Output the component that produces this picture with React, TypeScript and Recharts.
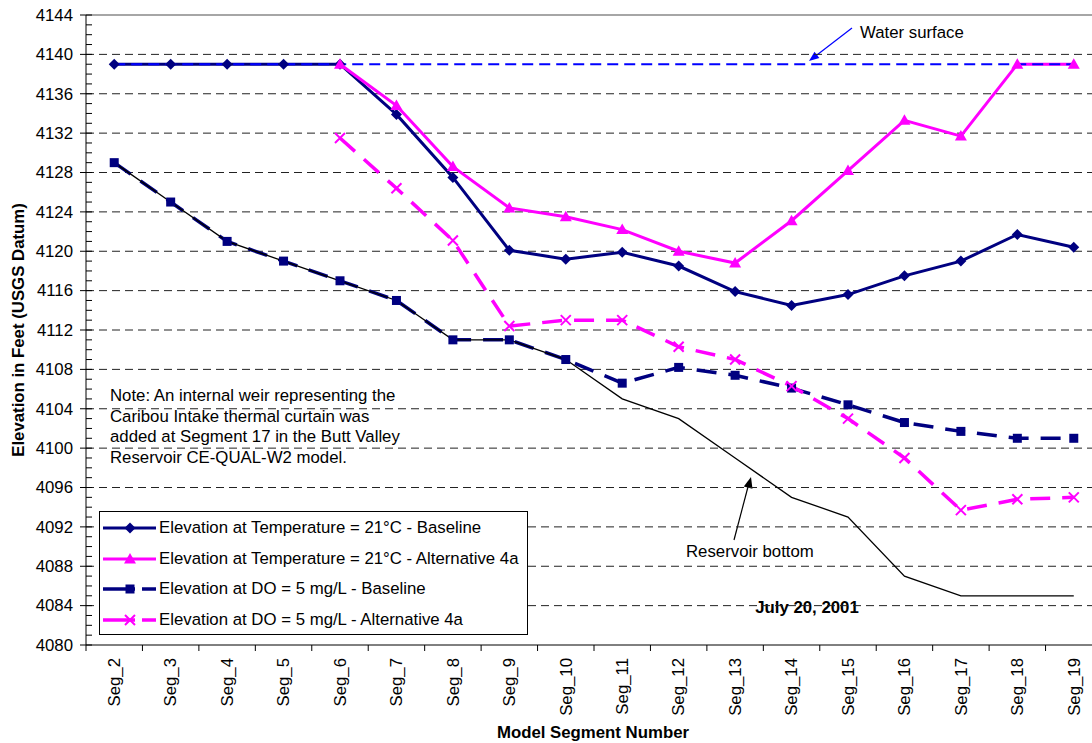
import React from "react";
import {
  LineChart,
  Line,
  XAxis,
  YAxis,
  ReferenceLine,
  Legend,
} from "recharts";

const SEGMENTS = [
  "Seg_2", "Seg_3", "Seg_4", "Seg_5", "Seg_6", "Seg_7", "Seg_8", "Seg_9", "Seg_10",
  "Seg_11", "Seg_12", "Seg_13", "Seg_14", "Seg_15", "Seg_16", "Seg_17", "Seg_18", "Seg_19",
];

const TEMP_BASELINE = [
  4139, 4139, 4139, 4139, 4139, 4133.9, 4127.5, 4120.1, 4119.2,
  4119.9, 4118.5, 4115.9, 4114.5, 4115.6, 4117.5, 4119.0, 4121.7, 4120.4,
];
const TEMP_ALT = [
  null, null, null, null, 4139, 4134.8, 4128.6, 4124.4, 4123.5,
  4122.2, 4120.0, 4118.8, 4123.1, 4128.2, 4133.3, 4131.7, 4139, 4139,
];
const DO_BASELINE = [
  4129, 4125, 4121, 4119, 4117, 4115, 4111, 4111, 4109,
  4106.6, 4108.2, 4107.4, 4106.1, 4104.4, 4102.6, 4101.7, 4101.0, 4101.0,
];
const DO_ALT = [
  null, null, null, null, 4131.5, 4126.4, 4121.1, 4112.4, 4113.0,
  4113.0, 4110.3, 4109.0, 4106.3, 4103.0, 4099.0, 4093.7, 4094.8, 4095.0,
];
const RESERVOIR_BOTTOM = [
  4129, 4125, 4121, 4119, 4117, 4115, 4111, 4111, 4109,
  4105, 4103, 4099, 4095, 4093, 4087, 4085, 4085, 4085,
];
const WATER_SURFACE = [
  4139, 4139, 4139, 4139, 4139, 4139, 4139, 4139, 4139,
  4139, 4139, 4139, 4139, 4139, 4139, 4139, 4139, 4139,
];

const Y_MAJOR = [4080, 4084, 4088, 4092, 4096, 4100, 4104, 4108, 4112, 4116, 4120, 4124, 4128, 4132, 4136, 4140, 4144];
const GRID_VALUES = [4084, 4088, 4092, 4096, 4100, 4104, 4108, 4112, 4116, 4120, 4124, 4128, 4132, 4136, 4140];
// minor ticks every foot between the labelled ones
const Y_TICKS = Y_MAJOR.flatMap((v, i) => (i === 0 ? [v] : [v - 3, v - 2, v - 1, v]));

const NOTE_LINES = [
  "Note: An internal weir representing the",
  "Caribou Intake thermal curtain was",
  "added at Segment 17 in the Butt Valley",
  "Reservoir CE-QUAL-W2 model.",
];

const NAVY = "#000080";
const MAGENTA = "#FF00FF";
const FONT = "Arial, 'Liberation Sans', Helvetica, sans-serif";
const FS = 16.8;

const CHART_W = 1102;
const CHART_H = 743;
const AXIS_X = 86;
const PLOT_TOP = 15;
const PLOT_BOTTOM = 645;
const HALF_BAND = (CHART_W - AXIS_X) / SEGMENTS.length / 2;

const data = SEGMENTS.map((seg, i) => ({
  seg,
  tempBase: TEMP_BASELINE[i],
  tempAlt: TEMP_ALT[i],
  doBase: DO_BASELINE[i],
  doAlt: DO_ALT[i],
  bottom: RESERVOIR_BOTTOM[i],
  water: WATER_SURFACE[i],
}));

const Diamond = (p: any) => {
  if (p.cx == null || p.cy == null) return <g key={p.index} />;
  const r = 5.5;
  return (
    <path
      key={p.index}
      d={`M${p.cx},${p.cy - r}L${p.cx + r},${p.cy}L${p.cx},${p.cy + r}L${p.cx - r},${p.cy}Z`}
      fill={NAVY}
    />
  );
};

const Triangle = (p: any) => {
  if (p.cx == null || p.cy == null) return <g key={p.index} />;
  return (
    <path
      key={p.index}
      d={`M${p.cx},${p.cy - 6}L${p.cx + 6},${p.cy + 4.5}L${p.cx - 6},${p.cy + 4.5}Z`}
      fill={MAGENTA}
    />
  );
};

const Square = (p: any) => {
  if (p.cx == null || p.cy == null) return <g key={p.index} />;
  return <rect key={p.index} x={p.cx - 4.5} y={p.cy - 4.5} width={9} height={9} fill={NAVY} />;
};

const Cross = (p: any) => {
  if (p.cx == null || p.cy == null) return <g key={p.index} />;
  const r = 5;
  return (
    <path
      key={p.index}
      d={`M${p.cx - r},${p.cy - r}L${p.cx + r},${p.cy + r}M${p.cx + r},${p.cy - r}L${p.cx - r},${p.cy + r}`}
      stroke={MAGENTA}
      strokeWidth={2}
      fill="none"
    />
  );
};

const YTick = (props: any) => {
  const { y, payload } = props;
  const major = Y_MAJOR.includes(payload.value);
  return (
    <g>
      <line x1={major ? AXIS_X - 6 : AXIS_X} x2={AXIS_X + 6} y1={y} y2={y} stroke="#000" />
      {major && (
        <text x={73} y={y} dy={5.8} textAnchor="end" fontSize={FS} fontFamily={FONT} fill="#000">
          {payload.value}
        </text>
      )}
    </g>
  );
};

const XTick = (props: any) => {
  const { x, payload } = props;
  return (
    <g>
      <line x1={x - HALF_BAND} x2={x - HALF_BAND} y1={PLOT_BOTTOM} y2={PLOT_BOTTOM + 6} stroke="#000" />
      <text
        transform={`translate(${x + 5.8},${PLOT_BOTTOM + 13}) rotate(-90)`}
        textAnchor="end"
        fontSize={FS}
        fontFamily={FONT}
        fill="#000"
      >
        {payload.value}
      </text>
    </g>
  );
};

function arrowHead(x1: number, y1: number, x2: number, y2: number, len: number, half: number) {
  const dx = x2 - x1;
  const dy = y2 - y1;
  const d = Math.sqrt(dx * dx + dy * dy);
  const ux = dx / d;
  const uy = dy / d;
  const bx = x2 - ux * len;
  const by = y2 - uy * len;
  return `${x2},${y2} ${bx - uy * half},${by + ux * half} ${bx + uy * half},${by - ux * half}`;
}

const LEGEND_ITEMS = [
  { label: "Elevation at Temperature = 21°C - Baseline", color: NAVY, marker: "diamond", dashed: false },
  { label: "Elevation at Temperature = 21°C - Alternative 4a", color: MAGENTA, marker: "triangle", dashed: false },
  { label: "Elevation at DO = 5 mg/L - Baseline", color: NAVY, marker: "square", dashed: true },
  { label: "Elevation at DO = 5 mg/L - Alternative 4a", color: MAGENTA, marker: "cross", dashed: true },
];

const LegendBox = () => (
  <div
    style={{
      width: 427,
      height: 121,
      border: "1px solid #000",
      background: "#fff",
      fontFamily: FONT,
      fontSize: FS,
      color: "#000",
      boxSizing: "content-box",
      paddingTop: 1,
    }}
  >
    {LEGEND_ITEMS.map((it, i) => (
      <div key={i} style={{ display: "flex", alignItems: "center", height: 30.6 }}>
        <svg width={59} height={20} style={{ flex: "none" }}>
          {it.dashed ? (
            <g stroke={it.color} strokeWidth={3.5}>
              <line x1={3} x2={35} y1={10} y2={10} />
              <line x1={42} x2={56} y1={10} y2={10} />
            </g>
          ) : (
            <line x1={3} x2={56} y1={10} y2={10} stroke={it.color} strokeWidth={3} />
          )}
          {it.marker === "diamond" && Diamond({ cx: 30, cy: 10, index: 0 })}
          {it.marker === "triangle" && Triangle({ cx: 30, cy: 10, index: 0 })}
          {it.marker === "square" && Square({ cx: 30, cy: 10, index: 0 })}
          {it.marker === "cross" && Cross({ cx: 30, cy: 10, index: 0 })}
        </svg>
        <span style={{ whiteSpace: "nowrap" }}>{it.label}</span>
      </div>
    ))}
  </div>
);

export default function App() {
  return (
    <div
      style={{
        position: "absolute",
        left: 0,
        top: 0,
        width: 1092,
        height: 743,
        overflow: "hidden",
        background: "#fff",
      }}
    >
      <LineChart
        width={CHART_W}
        height={CHART_H}
        data={data}
        margin={{ top: PLOT_TOP, right: 0, bottom: 0, left: 0 }}
      >
        {GRID_VALUES.map((v) => (
          <ReferenceLine key={v} y={v} stroke="#222" strokeDasharray="8 5" strokeWidth={1} />
        ))}
        <ReferenceLine y={4144} stroke="#888" strokeWidth={1.5} />
        <XAxis
          dataKey="seg"
          interval={0}
          height={CHART_H - PLOT_BOTTOM}
          padding={{ left: HALF_BAND, right: HALF_BAND }}
          axisLine={{ stroke: "#000" }}
          tickLine={false}
          tick={<XTick />}
        />
        <YAxis
          domain={[4080, 4144]}
          ticks={Y_TICKS}
          interval={0}
          width={AXIS_X}
          allowDataOverflow
          axisLine={{ stroke: "#000" }}
          tickLine={false}
          tick={<YTick />}
        />
        <Legend
          layout="horizontal"
          verticalAlign="middle"
          align="center"
          content={<LegendBox />}
          wrapperStyle={{ left: 99, top: 511, width: 429, height: 124 }}
        />
        <Line
          dataKey="tempBase"
          stroke={NAVY}
          strokeWidth={3}
          dot={Diamond}
          activeDot={false}
          isAnimationActive={false}
        />
        <Line
          dataKey="tempAlt"
          stroke={MAGENTA}
          strokeWidth={3}
          dot={Triangle}
          activeDot={false}
          isAnimationActive={false}
        />
        <Line
          dataKey="doBase"
          stroke={NAVY}
          strokeWidth={3.5}
          strokeDasharray="20 12"
          dot={Square}
          activeDot={false}
          isAnimationActive={false}
        />
        <Line
          dataKey="doAlt"
          stroke={MAGENTA}
          strokeWidth={3.5}
          strokeDasharray="20 12"
          dot={Cross}
          activeDot={false}
          isAnimationActive={false}
        />
        <Line
          dataKey="bottom"
          stroke="#000"
          strokeWidth={1.3}
          dot={false}
          activeDot={false}
          legendType="none"
          isAnimationActive={false}
        />
        <Line
          dataKey="water"
          stroke="#0000FF"
          strokeWidth={2}
          strokeDasharray="11 6"
          dot={false}
          activeDot={false}
          legendType="none"
          isAnimationActive={false}
        />
        <g fontFamily={FONT} fill="#000">
          <rect x={104} y={381} width={320} height={88} fill="#fff" />
          {NOTE_LINES.map((t, i) => (
            <text key={i} x={110} y={401 + i * 20.7} fontSize={FS}>
              {t}
            </text>
          ))}
          <text x={860} y={38} fontSize={FS}>Water surface</text>
          <line x1={852} y1={28} x2={813} y2={58} stroke="#0000FF" strokeWidth={1.2} />
          <polygon points={arrowHead(852, 28, 809, 61, 10, 4)} fill="#0000FF" />
          <text x={686} y={557} fontSize={FS}>Reservoir bottom</text>
          <line x1={734} y1={540} x2={749} y2={483} stroke="#000" strokeWidth={1.2} />
          <polygon points={arrowHead(734, 540, 751, 477, 11, 4.5)} fill="#000" />
          <rect x={750} y={594} width={118} height={24} fill="#fff" />
          <text x={807} y={613} fontSize={FS} fontWeight="bold" textAnchor="middle">July 20, 2001</text>
          <text x={593} y={738} fontSize={FS} fontWeight="bold" textAnchor="middle">Model Segment Number</text>
          <text transform="translate(24,330) rotate(-90)" fontSize={FS} fontWeight="bold" textAnchor="middle">
            Elevation in Feet (USGS Datum)
          </text>
        </g>
      </LineChart>
    </div>
  );
}
